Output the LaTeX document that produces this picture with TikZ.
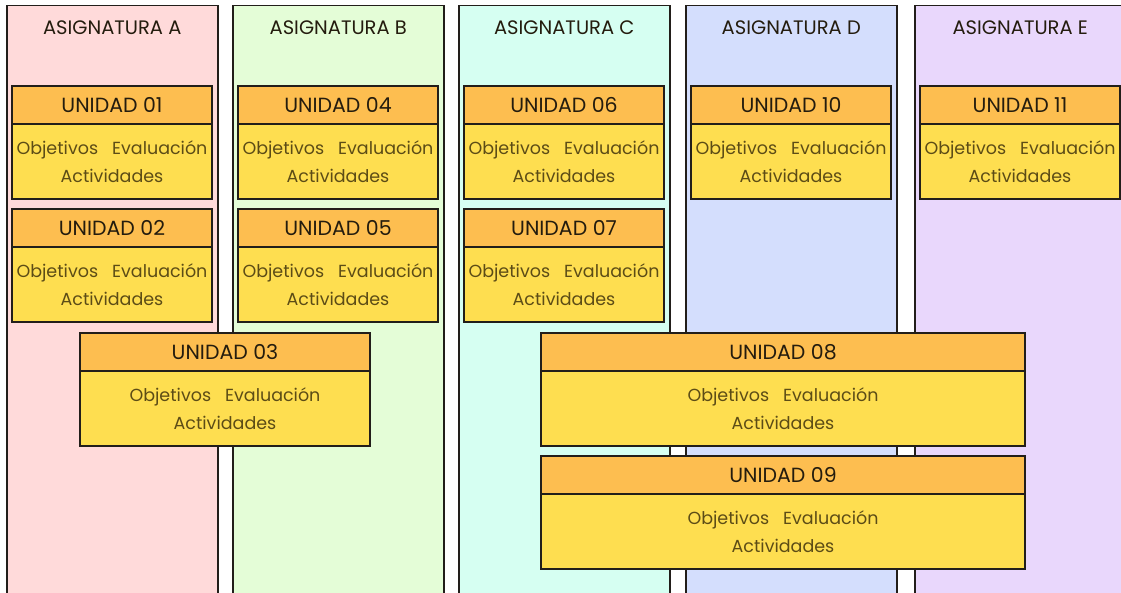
\documentclass[tikz,border=0pt]{standalone}
\usepackage{fontspec}
\setmainfont{Poppins}
\usepackage{xcolor}
\usepackage{tikz}
\usetikzlibrary{positioning}
\definecolor{rosa}{RGB}{255,218,218}
\definecolor{verdeclaro}{RGB}{228,253,215}
\definecolor{menta}{RGB}{214,255,242}
\definecolor{azulclaro}{RGB}{212,222,253}
\definecolor{lila}{RGB}{233,215,252}
\definecolor{naranja}{RGB}{253,190,80}
\definecolor{amarillo}{RGB}{254,222,80}
\definecolor{borde}{RGB}{34,30,26}
\definecolor{oliva}{RGB}{92,76,22}
\definecolor{tinta}{RGB}{36,28,14}

\tikzset{
  asignatura/.style={draw=borde,line width=1.5pt,anchor=north west,minimum width=211pt,minimum height=640pt,inner sep=0pt},
  titulo/.style={anchor=north,minimum height=44pt,inner sep=0pt,text=tinta,font=\fontsize{19.5}{22}\selectfont},
  cabecera/.style={draw=borde,line width=1.5pt,fill=naranja,anchor=north west,minimum height=38pt,outer sep=0pt,inner sep=0pt,text=tinta,font=\fontsize{20.5}{23}\selectfont},
  contenido/.style={draw=borde,line width=1.5pt,fill=amarillo,minimum height=75pt,outer sep=0pt,inner sep=0pt,align=center,text=oliva,font=\fontsize{17.5}{28}\selectfont}
}

\begin{document}
\begin{tikzpicture}[x=1pt,y=-1pt]
\clip (0,0) rectangle (1121,593);
\fill[white] (0,0) rectangle (1121,593);

% columnas
\node[asignatura,fill=rosa] (asigA) at (6,5) {};
\node[asignatura,fill=verdeclaro] (asigB) at (232,5) {};
\node[asignatura,fill=menta] (asigC) at (458,5) {};
\node[asignatura,fill=azulclaro] (asigD) at (685,5) {};
\node[asignatura,fill=lila] (asigE) at (914,5) {};

\node[titulo,below=0pt of asigA.north] (titA) {ASIGNATURA A};
\node[titulo,below=0pt of asigB.north] (titB) {ASIGNATURA B};
\node[titulo,below=0pt of asigC.north] (titC) {ASIGNATURA C};
\node[titulo,below=0pt of asigD.north] (titD) {ASIGNATURA D};
\node[titulo,below=0pt of asigE.north] (titE) {ASIGNATURA E};

% unidades
\node[cabecera,minimum width=200pt] (u01) at (12,86) {UNIDAD 01};
\node[contenido,minimum width=200pt,below=0pt of u01] (u01c) {Objetivos\hspace{0.8em}Evaluación\\Actividades};
\node[cabecera,minimum width=200pt] (u02) at (12,209) {UNIDAD 02};
\node[contenido,minimum width=200pt,below=0pt of u02] (u02c) {Objetivos\hspace{0.8em}Evaluación\\Actividades};
\node[cabecera,minimum width=200pt] (u04) at (238,86) {UNIDAD 04};
\node[contenido,minimum width=200pt,below=0pt of u04] (u04c) {Objetivos\hspace{0.8em}Evaluación\\Actividades};
\node[cabecera,minimum width=200pt] (u05) at (238,209) {UNIDAD 05};
\node[contenido,minimum width=200pt,below=0pt of u05] (u05c) {Objetivos\hspace{0.8em}Evaluación\\Actividades};
\node[cabecera,minimum width=290pt] (u03) at (80,333) {UNIDAD 03};
\node[contenido,minimum width=290pt,below=0pt of u03] (u03c) {Objetivos\hspace{0.8em}Evaluación\\Actividades};
\node[cabecera,minimum width=200pt] (u06) at (464,86) {UNIDAD 06};
\node[contenido,minimum width=200pt,below=0pt of u06] (u06c) {Objetivos\hspace{0.8em}Evaluación\\Actividades};
\node[cabecera,minimum width=200pt] (u07) at (464,209) {UNIDAD 07};
\node[contenido,minimum width=200pt,below=0pt of u07] (u07c) {Objetivos\hspace{0.8em}Evaluación\\Actividades};
\node[cabecera,minimum width=484pt] (u08) at (541,333) {UNIDAD 08};
\node[contenido,minimum width=484pt,below=0pt of u08] (u08c) {Objetivos\hspace{0.8em}Evaluación\\Actividades};
\node[cabecera,minimum width=484pt] (u09) at (541,456) {UNIDAD 09};
\node[contenido,minimum width=484pt,below=0pt of u09] (u09c) {Objetivos\hspace{0.8em}Evaluación\\Actividades};
\node[cabecera,minimum width=200pt] (u10) at (691,86) {UNIDAD 10};
\node[contenido,minimum width=200pt,below=0pt of u10] (u10c) {Objetivos\hspace{0.8em}Evaluación\\Actividades};
\node[cabecera,minimum width=200pt] (u11) at (920,86) {UNIDAD 11};
\node[contenido,minimum width=200pt,below=0pt of u11] (u11c) {Objetivos\hspace{0.8em}Evaluación\\Actividades};
\end{tikzpicture}
\end{document}
